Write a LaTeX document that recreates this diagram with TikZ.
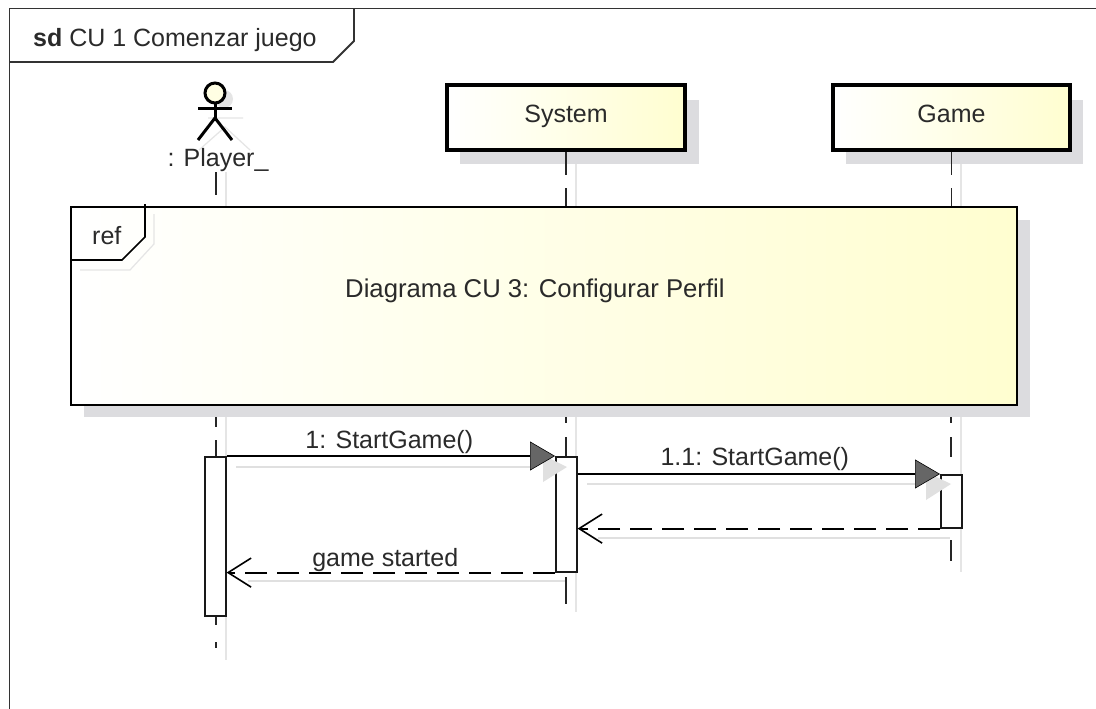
\documentclass[tikz,border=0pt]{standalone}
\usepackage{fontspec}
\setmainfont{Liberation Sans}
\usetikzlibrary{arrows.meta,positioning,calc,shadings}
\usepackage{xcolor}
\definecolor{noteyellow}{HTML}{FFFED0}
\definecolor{shadowgray}{HTML}{DCDCDF}
\definecolor{inkgray}{HTML}{2A2A2A}
\tikzset{
  lbl/.style={text=inkgray,font=\fontsize{25}{28}\selectfont,inner sep=0pt},
  lifebox/.style={draw=black,line width=4pt,left color=white,right color=noteyellow,
        minimum width=238pt,minimum height=65pt,anchor=north west,inner sep=0pt,lbl,
        text height=18pt,text depth=8pt},
  activ/.style={draw=black!90,line width=1.6pt,fill=white,minimum width=21pt,anchor=north west,inner sep=0pt},
  lifeline/.style={draw=black!85,line width=1.8pt,dash pattern=on 23pt off 13pt},
  lifeshadow/.style={draw=black!10,line width=1.2pt},
  callmsg/.style={draw=black,line width=1.8pt,-{Triangle[length=25pt,width=29pt,fill=black!60,line width=.6pt]}},
  replymsg/.style={draw=black,line width=1.8pt,dash pattern=on 22pt off 10pt,
        -{Straight Barb[length=23pt,width=29pt,line width=1.6pt]}},
  msgshadow/.style={draw=black!12,line width=1.2pt},
}
\begin{document}
\begin{tikzpicture}[x=1pt,y=-1pt]
  \useasboundingbox (0,0) rectangle (1096,709);
  \fill[white] (0,0) rectangle (1096,709);
  % outer frame
  \coordinate (frameTL) at (9.5,8.5);
  \draw[line width=1.8pt,draw=black!80] (1096,8.5) -- (frameTL) -- (9.5,709);
  \draw[line width=1.8pt,draw=black!80] (9.5,62) -- (333,62) -- (354,41) -- (354,8.5);
  \node[lbl,anchor=west] (frametitle) at (33,40) {\textbf{sd} CU 1 Comenzar juego};

  % lifeline shadows
  \foreach \x/\a/\b in {226/172/206, 226/417/660, 576/163/206, 576/417/612, 961/163/206, 961/417/572} {
    \draw[lifeshadow] (\x,\a) -- (\x,\b);
  }
  % actor
  \fill[black!10] (224,99) circle (9);
  \draw[black!10,line width=1.2pt] (208,118) -- (243,118) (199,150) -- (225,127) -- (250,150);
  \node[circle,draw=black,line width=3pt,fill=noteyellow!60,minimum size=20pt,inner sep=0pt] (actorhead) at (215,93) {};
  \draw[line width=3pt] (actorhead.south) -- (215,118) coordinate (actorhip);
  \draw[line width=3pt] (198,109) -- (232,109);
  \draw[line width=3pt] (198,140) -- (actorhip) -- (232,140);
  \node[lbl,anchor=center] (player) at (218,160) {: Player\_};

  % lifelines
  \coordinate (playerstart) at (216,172);
  \coordinate (playerend) at (216,648);
  \draw[lifeline] (playerstart) -- (216,206);
  \draw[lifeline,dash pattern=on 22pt off 13pt] (216,405) -- (216,456);
  \draw[lifeline,dash pattern=on 10pt off 17pt on 7pt off 20pt] (216,615) -- (playerend);

  % lifeline heads
  \fill[shadowgray] (460,100) rectangle (699,164);
  \fill[shadowgray] (846,100) rectangle (1083,164);
  \node[lifebox] (system) at (445,83) {System};
  \node[lifebox,minimum width=237pt] (game) at (831,83) {Game};
  \draw[lifeline] (system.south) -- (system.south |- 0,206);
  \draw[lifeline] (game.south) -- (game.south |- 0,206);
  \draw[lifeline,dash pattern=on 18pt off 14pt on 20pt] (566,405) -- (566,456);
  \draw[lifeline,dash pattern=on 18pt off 14pt on 20pt] (951,405) -- (951,474);
  \draw[lifeline,dash pattern=on 28pt] (566,577) -- (566,604);
  \draw[lifeline,dash pattern=on 21pt] (951,540) -- (951,561);

  % interaction use
  \fill[shadowgray] (84,220) rectangle (1030,417);
  \node[draw=black,line width=1.6pt,left color=white,right color=noteyellow,
        minimum width=946pt,minimum height=198pt,anchor=north west,inner sep=0pt] (refbox) at (70,206) {};
  \draw[line width=1.6pt] (70,260) -- (122,260) -- (145,237) -- (145,204);
  \draw[black!10,line width=1.2pt] (80,270) -- (130,270) -- (154,244) -- (154,214);
  \node[lbl,anchor=west] (reflabel) at (92,236) {ref};
  \node[lbl,anchor=west,font=\fontsize{25.7}{28}\selectfont] (refname) at (345,291) {Diagrama CU 3: Configurar Perfil};

  % activations
  \node[activ,minimum height=159pt] (actplayer) at (204,456) {};
  \node[activ,minimum height=115pt] (actsystem) at (555,456) {};
  \node[activ,minimum height=53pt] (actgame) at (940,474) {};

  % message shadows
  \draw[msgshadow] (236,467) -- (530,467);
  \draw[msgshadow] (587,484) -- (915,484);
  \draw[msgshadow] (598,538) -- (950,538);
  \draw[msgshadow] (248,581) -- (565,581);
  \fill[black!12] (543,482) -- (567,467) -- (543,455) -- cycle;
  \fill[black!12] (926,500) -- (951,484) -- (926,472) -- cycle;

  % messages
  \draw[callmsg] (actplayer.north east) -- (actsystem.north west)
    node[lbl,midway,above=1pt,xshift=-1.5pt] (msgone) {1: StartGame()};
  \draw[callmsg] (actgame.north west -| actsystem.east) -- (actgame.north west)
    node[lbl,midway,above=2pt,xshift=-4pt] (msgtwo) {1.1: StartGame()};
  \draw[replymsg] (actgame.south west) -- (actgame.south west -| actsystem.east);
  \draw[replymsg] (actsystem.south west) -- (actsystem.south west -| actplayer.east)
    node[lbl,midway,above=0pt,xshift=-5.5pt] (msgthree) {game started};
\end{tikzpicture}
\end{document}
